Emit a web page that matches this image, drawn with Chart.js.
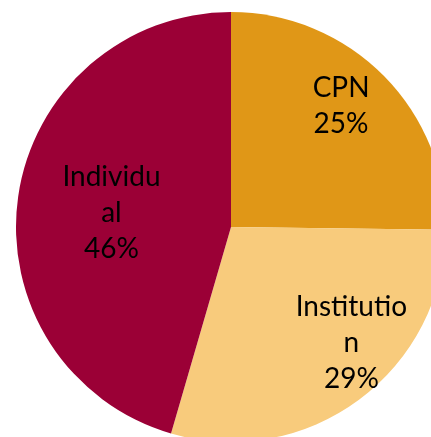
<!DOCTYPE html>
<html>
<head>
<meta charset="utf-8">
<script src="https://cdn.jsdelivr.net/npm/chart.js@4.4.1/dist/chart.umd.min.js"></script>
<style>
  html, body { margin: 0; padding: 0; background: #fff; overflow: hidden; width: 431px; height: 437px; }
  #wrap { position: absolute; left: 16px; top: 12px; width: 430px; height: 430px; }
</style>
</head>
<body>
<div id="wrap"><canvas id="chartPie"></canvas></div>
<script>
var categories = ["CPN", "Institution", "Individual"];
var shares = [25.2, 29.3, 45.5];
// how the labels wrap inside the slices
var labelLines = [["CPN"], ["Institutio", "n"], ["Individu", "al"]];
var colors = ['#E09717', '#F8CB7C', '#9B0036'];

// label block centre, as a fraction of the radius from the pie centre
var labelOffsets = [[0.512, -0.562], [0.560, 0.540], [-0.556, -0.066]];

var total = shares.reduce(function (a, b) { return a + b; }, 0);

var sliceLabels = {
    id: 'sliceLabels',
    afterDatasetsDraw: function (chart) {
        var ctx = chart.ctx;
        var arcs = chart.getDatasetMeta(0).data;
        ctx.save();
        ctx.fillStyle = '#000';
        ctx.font = '28px Lato, "DejaVu Sans", sans-serif';
        ctx.textAlign = 'center';
        ctx.textBaseline = 'middle';
        arcs.forEach(function (arc, i) {
            var p = arc.getProps(['x', 'y', 'outerRadius'], true);
            var lines = labelLines[i].concat([Math.round(shares[i] / total * 100) + '%']);
            var cx = p.x + labelOffsets[i][0] * p.outerRadius;
            var cy = p.y + labelOffsets[i][1] * p.outerRadius;
            var pitch = 36;
            var y0 = cy - (lines.length - 1) * pitch / 2;
            lines.forEach(function (t, k) {
                ctx.fillText(t, cx, y0 + k * pitch);
            });
        });
        ctx.restore();
    }
};

var ourPie = document.getElementById('chartPie');

var pieChart = new Chart(ourPie, {
    type: 'pie',
    data: {
        labels: categories,
        datasets: [
            {
                data: shares,
                backgroundColor: colors,
                borderWidth: 0
            }
        ]
    },
    options: {
        responsive: true,
        maintainAspectRatio: false,
        animation: false,
        layout: { padding: 0 },
        plugins: {
            legend: { display: false },
            tooltip: { enabled: false }
        }
    },
    plugins: [sliceLabels]
});
</script>
</body>
</html>
